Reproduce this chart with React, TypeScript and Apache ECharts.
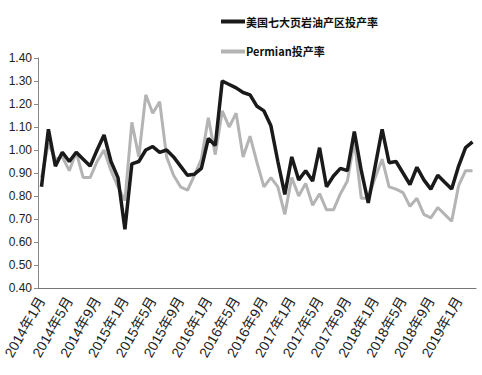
import React, { useEffect, useRef } from "react";
import * as echarts from "echarts";

const years = [2014, 2015, 2016, 2017, 2018, 2019];
const categories: string[] = [];
for (const y of years) {
  for (let m = 1; m <= 12; m++) {
    if (y === 2019 && m > 3) break;
    categories.push(`${y}年${m}月`);
  }
}

const seriesNames = ["美国七大页岩油产区投产率", "Permian投产率"];

const sevenRegions = [
  0.84, 1.09, 0.93, 0.99, 0.95, 0.99, 0.96, 0.93, 1.0, 1.065, 0.95, 0.88,
  0.655, 0.94, 0.95, 1.0, 1.015, 0.99, 1.0, 0.97, 0.93, 0.89, 0.895, 0.92,
  1.05, 1.02, 1.3, 1.285, 1.27, 1.25, 1.24, 1.19, 1.17, 1.105, 0.95, 0.807,
  0.97, 0.87, 0.91, 0.865, 1.01, 0.84, 0.887, 0.92, 0.91, 1.08, 0.91, 0.77,
  0.93, 1.09, 0.945, 0.95, 0.9, 0.85, 0.925, 0.87, 0.83, 0.89, 0.86, 0.83,
  0.93, 1.01, 1.035,
];

const permian = [
  0.88, 1.03, 0.96, 0.97, 0.91, 0.99, 0.88, 0.88, 0.95, 1.0, 0.91, 0.84,
  0.78, 1.12, 0.97, 1.24, 1.16, 1.21, 0.97, 0.89, 0.84, 0.825, 0.89, 0.96,
  1.14, 0.98, 1.17, 1.1, 1.16, 0.97, 1.06, 0.945, 0.84, 0.88, 0.84, 0.72,
  0.88, 0.8, 0.855, 0.76, 0.81, 0.74, 0.74, 0.81, 0.865, 1.04, 0.79, 0.79,
  0.88, 0.96, 0.84, 0.83, 0.815, 0.755, 0.79, 0.72, 0.705, 0.75, 0.72, 0.69,
  0.845, 0.91, 0.91,
];

const FONT = "'Liberation Sans Narrow', 'Liberation Sans', 'Noto Sans CJK SC', sans-serif";

export default function App() {
  const ref = useRef<HTMLDivElement>(null);
  useEffect(() => {
    document.body.style.margin = "0";
    if (!ref.current) return;
    const chart = echarts.init(ref.current, null, { renderer: "svg" });
    chart.setOption({
      animation: false,
      backgroundColor: "#ffffff",
      legend: {
        orient: "vertical",
        left: 216,
        top: 11,
        itemGap: 19,
        itemWidth: 24,
        itemHeight: 4,
        icon: "rect",
        textStyle: {
          fontSize: 11,
          fontWeight: "bold",
          color: "#111",
          fontFamily: "'Noto Sans CJK SC', sans-serif",
          padding: [0, 0, 0, -4],
        },
        data: seriesNames,
      },
      grid: { left: 38, right: 6, top: 58, bottom: 87, containLabel: false },
      xAxis: {
        type: "category",
        data: categories,
        boundaryGap: true,
        axisLine: { lineStyle: { color: "#777", width: 1 } },
        axisTick: { interval: 3, length: 5, lineStyle: { color: "#777" } },
        axisLabel: {
          interval: 3,
          rotate: 60,
          fontSize: 14,
          color: "#222",
          fontFamily: FONT,
          margin: 10,
        },
        splitLine: { show: false },
      },
      yAxis: {
        type: "value",
        min: 0.4,
        max: 1.4,
        interval: 0.1,
        axisLine: { show: true, lineStyle: { color: "#888", width: 1 } },
        axisTick: { show: true, length: 4, lineStyle: { color: "#888" } },
        axisLabel: {
          formatter: (v: number) => v.toFixed(2),
          fontSize: 12,
          color: "#222",
          fontFamily: FONT,
          margin: 6,
        },
        splitLine: { show: false },
      },
      series: [
        {
          name: seriesNames[0],
          type: "line",
          data: sevenRegions,
          symbol: "none",
          z: 3,
          lineStyle: { color: "#1a1a1a", width: 3.5 },
          itemStyle: { color: "#1a1a1a" },
        },
        {
          name: seriesNames[1],
          type: "line",
          data: permian,
          symbol: "none",
          z: 2,
          lineStyle: { color: "#b4b4b4", width: 3 },
          itemStyle: { color: "#b4b4b4" },
        },
      ],
    });
    return () => chart.dispose();
  }, []);
  return <div ref={ref} style={{ width: 482, height: 375 }} />;
}
